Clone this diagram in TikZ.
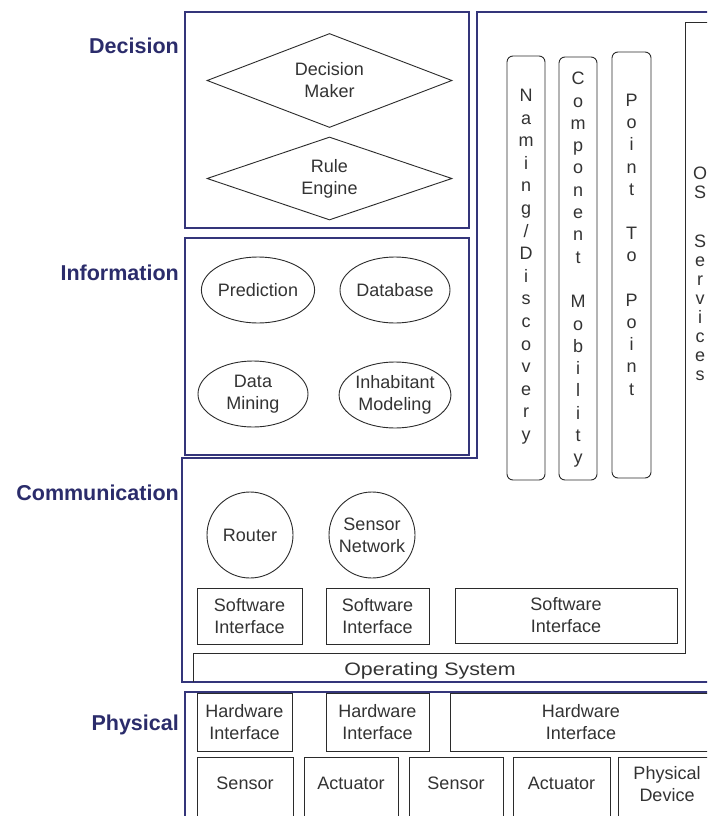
\documentclass[tikz,border=0pt]{standalone}
\usepackage{fontspec}
\setmainfont{Liberation Sans}
\usepackage{graphicx}
\usetikzlibrary{shapes.geometric}
\definecolor{navy}{HTML}{34357A}
\definecolor{navytext}{HTML}{2B2C6B}
\definecolor{ink}{HTML}{333333}
\definecolor{lineg}{HTML}{2B2B2B}
\begin{document}
\begin{tikzpicture}[x=1pt,y=-1pt,
  layer/.style={draw=navy, line width=1.8pt},
  lbl/.style={font=\fontsize{21.5}{25}\selectfont\bfseries, text=navytext, anchor=base east, inner sep=0},
  thin/.style={draw=lineg, line width=0.9pt},
  txt/.style={font=\fontsize{18}{22}\selectfont, text=ink, align=center, inner sep=0},
  dia/.style={thin, txt, diamond, aspect=2.6, minimum width=245},
  ell/.style={thin, txt, ellipse, minimum width=110, minimum height=66},
  circ/.style={thin, txt, circle, minimum size=86},
  box/.style={thin, txt, rectangle},
  cell/.style={thin, rectangle, anchor=north, minimum height=80, inner sep=0},
  col/.style={thin, rectangle, rounded corners=6pt, inner sep=0},
  stack/.style={txt, anchor=north},
]
\useasboundingbox (0,0) rectangle (707,816);
\fill[white] (0,0) rectangle (707,816);
\clip (0,0) rectangle (707,816);

% layer labels
\node[lbl] (ldec) at (179,53) {Decision};
\node[lbl] (linf) at (179,280) {Information};
\node[lbl] (lcom) at (179,500) {Communication};
\node[lbl] (lphy) at (179,730) {Physical};

% layer frames
\draw[layer] (185,12) rectangle (469,228);
\draw[layer] (185,238) rectangle (469,455);
\draw[layer] (740,682) -- (182,682) -- (182,458) -- (477,458) -- (477,12) -- (740,12);
\draw[layer] (740,692) -- (185,692) -- (185,840);

% decision
\node[dia, minimum height=94] (dm) at (329.5,80.5) {Decision\\Maker};
\node[dia, minimum height=83] (re) at (329.5,178.5) {Rule\\Engine};

% information
\node[ell] (pred) at (258,290) {Prediction};
\node[ell] (db) at (395,290) {Database};
\node[ell] (dmin) at (253,394) {Data\\Mining};
\node[ell] (inh) at (395,395) {Inhabitant\\Modeling};

% communication
\node[circ] (rt) at (250,535) {Router};
\node[circ] (sn) at (372,535) {Sensor\\Network};
\node[box, minimum width=105, minimum height=56] (si1) at (249.5,616) {Software\\Interface};
\node[box, minimum width=103, minimum height=56] (si2) at (377.5,616) {Software\\Interface};
\node[box, minimum width=222, minimum height=55] (si3) at (566,615.5) {Software\\Interface};

% vertical service columns
\node[col, minimum width=38, minimum height=424] (ndbox) at (526,268) {};
\node[col, minimum width=38, minimum height=423] (cmbox) at (578,268.5) {};
\node[col, minimum width=39, minimum height=426] (ptbox) at (631.5,265) {};
\node[stack, font=\fontsize{18}{22.6}\selectfont] (ndt) at (526,89)
  {N\\a\\m\\i\\n\\g\\/\\D\\i\\s\\c\\o\\v\\e\\r\\y};
\node[stack, font=\fontsize{18}{22.3}\selectfont] (cmt) at (578,72)
  {C\\o\\m\\p\\o\\n\\e\\n\\t\\[22.3pt]M\\o\\b\\i\\l\\i\\t\\y};
\node[stack, font=\fontsize{18}{22.2}\selectfont] (ptt) at (631.5,94)
  {P\\o\\i\\n\\t\\[22.2pt]T\\o\\[22.2pt]P\\o\\i\\n\\t};

% operating system and OS services
\draw[thin] (193,682) -- (193,653) -- (685,653) -- (685,22) -- (740,22);
\node[txt, anchor=base] (os) at (430,675) {\scalebox{1.19}[1]{Operating System}};
\node[stack, font=\fontsize{18}{19}\selectfont] (oss) at (700,167)
  {O\\S\\[30pt]S\\e\\r\\v\\i\\c\\e\\s};

% physical
\node[box, minimum width=95, minimum height=58] (hi1) at (244.5,722) {Hardware\\Interface};
\node[box, minimum width=103, minimum height=58] (hi2) at (377.5,722) {Hardware\\Interface};
\node[box, minimum width=262, minimum height=58] (hi3) at (581,722) {Hardware\\Interface};

\node[cell, minimum width=96] (c1) at (245,757) {};
\node[cell, minimum width=94] (c2) at (351,757) {};
\node[cell, minimum width=94] (c3) at (456,757) {};
\node[cell, minimum width=97] (c4) at (561.5,757) {};
\node[cell, minimum width=98] (c5) at (667,757) {};
\node[txt] (t1) at (245,783) {Sensor};
\node[txt] (t2) at (351,783) {Actuator};
\node[txt] (t3) at (456,783) {Sensor};
\node[txt] (t4) at (561.5,783) {Actuator};
\node[txt] (t5) at (667,784) {Physical\\Device};
\end{tikzpicture}
\end{document}
